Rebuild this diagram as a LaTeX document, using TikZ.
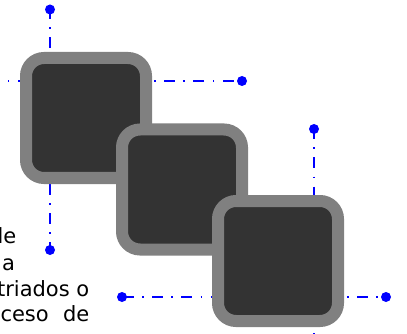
\documentclass[tikz,border=0pt]{standalone}
\usepackage{fontspec}
\setmainfont{DejaVu Sans}
\definecolor{tilefill}{HTML}{333333}
\definecolor{tileedge}{HTML}{808080}
\begin{document}
\begin{tikzpicture}[x=1pt, y=-1pt,
    tile/.style={draw=tileedge, fill=tilefill, line width=12pt, rounded corners=18pt,
      minimum size=120pt, inner sep=0pt},
    dot/.style={circle, fill=blue, inner sep=0pt, minimum size=10pt},
    guide/.style={blue, line width=2.4pt, dash pattern=on 10.8pt off 8.5pt on 1.5pt off 8.5pt},
    txt/.style={anchor=base east, inner sep=0pt, font=\fontsize{21pt}{26pt}\selectfont}]
    \useasboundingbox (0,0) rectangle (407,334);
    \clip (0,0) rectangle (407,334);
    \node[txt] (w1) at (16.5,243.5) {le};
    \node[txt] (w2) at (15.3,270) {a};
    \node[txt] (w3) at (89.5,296.5) {triados o};
    \node[txt] (w4) at (89.5,321) {ceso\hspace{7.6pt} de};

    \node[dot] (t1) at (50,9.5) {};
    \node[dot] (b1) at (50,250) {};
    \node[dot] (r1) at (242,81) {};
    \coordinate (l1) at (-22,81);
    \draw[guide, dash phase=1.5pt] (t1.center) -- (b1.center);
    \draw[guide, dash phase=20.8pt] (r1.center) -- (l1);

    \node[dot] (t2) at (314,129) {};
    \node[dot] (l2) at (122,297) {};
    \node[dot] (r2) at (386,297) {};
    \coordinate (b2) at (314,369);
    \draw[guide, dash phase=1pt] (t2.center) -- (b2);
    \draw[guide, dash phase=28.6pt] (l2.center) -- (r2.center);

    \node[tile] (a) at (86,118) {};
    \node[tile] (b) at (182,189.5) {};
    \node[tile] (c) at (278,261) {};
\end{tikzpicture}
\end{document}
